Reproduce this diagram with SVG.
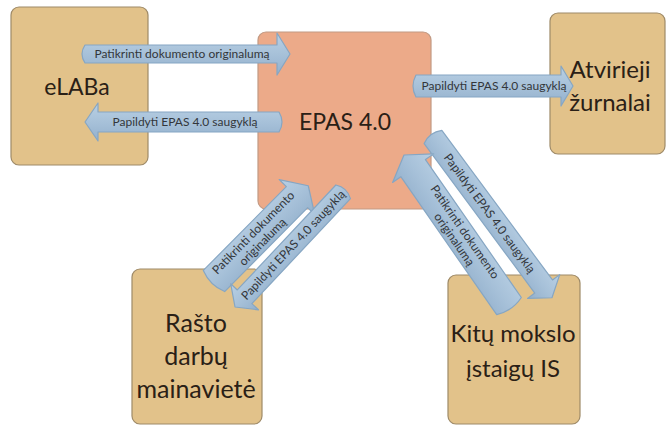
<svg xmlns="http://www.w3.org/2000/svg" width="668" height="426" viewBox="0 0 668 426">
  <defs>
    <linearGradient id="arrowFill" x1="0" y1="0" x2="0" y2="1">
      <stop offset="0" stop-color="#b9d0e4"/>
      <stop offset="0.5" stop-color="#a7c1d9"/>
      <stop offset="1" stop-color="#93b0cc"/>
    </linearGradient>
  </defs>
  <style>
    .tan { fill: #e2c28a; stroke: #9e8a68; stroke-width: 1.2; }
    .epas { fill: #ecaa89; stroke: #c29a84; stroke-width: 1.2; }
    .lbl { font-family: Lato, "Open Sans", "Liberation Sans", sans-serif; fill: #2a2016; text-anchor: middle; }
    .arrow { fill: url(#arrowFill); stroke: #86a6c3; stroke-width: 1.2; stroke-linejoin: round; }
    .al { font-family: Lato, "Open Sans", "Liberation Sans", sans-serif; font-size: 12px; fill: #33363a; text-anchor: middle; }
  </style>
  <rect width="668" height="426" fill="#ffffff"/>

  <g id="node-elaba">
    <rect class="tan" x="11" y="7" width="137" height="158" rx="8"/>
    <text class="lbl" x="77" y="95" font-size="23">eLABa</text>
  </g>
  <g id="node-epas">
    <rect class="epas" x="258" y="32" width="173" height="177" rx="8"/>
    <text class="lbl" x="345" y="130" font-size="23">EPAS 4.0</text>
  </g>
  <g id="node-atvirieji">
    <rect class="tan" x="550" y="13" width="115" height="141" rx="8"/>
    <text class="lbl" x="610" y="78" font-size="24">Atvirieji</text>
    <text class="lbl" x="610" y="111" font-size="24">žurnalai</text>
  </g>
  <g id="node-rasto">
    <rect class="tan" x="132" y="269" width="130" height="155" rx="8"/>
    <text class="lbl" x="196" y="332" font-size="25">Rašto</text>
    <text class="lbl" x="196" y="365" font-size="25">darbų</text>
    <text class="lbl" x="196" y="398" font-size="25">mainavietė</text>
  </g>
  <g id="node-kitu">
    <rect class="tan" x="448" y="275" width="132" height="149" rx="8"/>
    <text class="lbl" x="513" y="342" font-size="24">Kitų mokslo</text>
    <text class="lbl" x="513" y="377" font-size="24">įstaigų IS</text>
  </g>

  <g id="connectors">
    <!-- eLABa -> EPAS -->
    <g transform="translate(85,54)">
      <path class="arrow" d="M0,-9 L192,-9 L192,-21 L205,0 L192,21 L192,9 L0,9 Q-6,0 0,-9 Z"/>
      <text class="al" x="97" y="4">Patikrinti dokumento originalumą</text>
    </g>
    <!-- EPAS -> eLABa -->
    <g transform="translate(85,122)">
      <path class="arrow" d="M0,0 L13,-19 L13,-10 L194,-10 Q200,0 194,10 L13,10 L13,19 Z"/>
      <text class="al" x="100" y="4">Papildyti EPAS 4.0 saugyklą</text>
    </g>
    <!-- EPAS -> Atvirieji -->
    <g transform="translate(416,86)">
      <path class="arrow" d="M0,-11 L145,-11 L145,-20 L157,0 L145,20 L145,11 L0,11 Q-6,0 0,-11 Z"/>
      <text class="al" x="78" y="4">Papildyti EPAS 4.0 saugyklą</text>
    </g>
    <!-- Rasto -> EPAS -->
    <g transform="translate(214,281) rotate(-45.3)">
      <path class="arrow" d="M0,-15 L118,-15 L118,-25 L134,0 L118,25 L118,15 L0,15 Q-6,0 0,-15 Z"/>
      <text class="al" x="62" y="-2">Patikrinti dokumento</text>
      <text class="al" x="62" y="11">originalumą</text>
    </g>
    <!-- EPAS -> Rasto -->
    <g transform="translate(235,307) rotate(-46.8)">
      <path class="arrow" d="M0,0 L14,-19 L14,-10 L158,-10 Q164,0 158,10 L14,10 L14,19 Z"/>
      <text class="al" x="85" y="4">Papildyti EPAS 4.0 saugyklą</text>
    </g>
    <!-- EPAS -> Kitu -->
    <g transform="translate(433,137) rotate(53.5)">
      <path class="arrow" d="M0,-11 L186,-11 L186,-20 L200,0 L186,20 L186,11 L0,11 Q-6,0 0,-11 Z"/>
      <text class="al" x="95" y="4">Papildyti EPAS 4.0 saugyklą</text>
    </g>
    <!-- Kitu -> EPAS -->
    <g transform="translate(404,155) rotate(55.2)">
      <path class="arrow" d="M0,0 L16,-25 L16,-15 L184,-15 Q190,0 184,15 L16,15 L16,25 Z"/>
      <text class="al" x="98" y="-2">Patikrinti dokumento</text>
      <text class="al" x="98" y="11">originalumą</text>
    </g>
  </g>
</svg>
